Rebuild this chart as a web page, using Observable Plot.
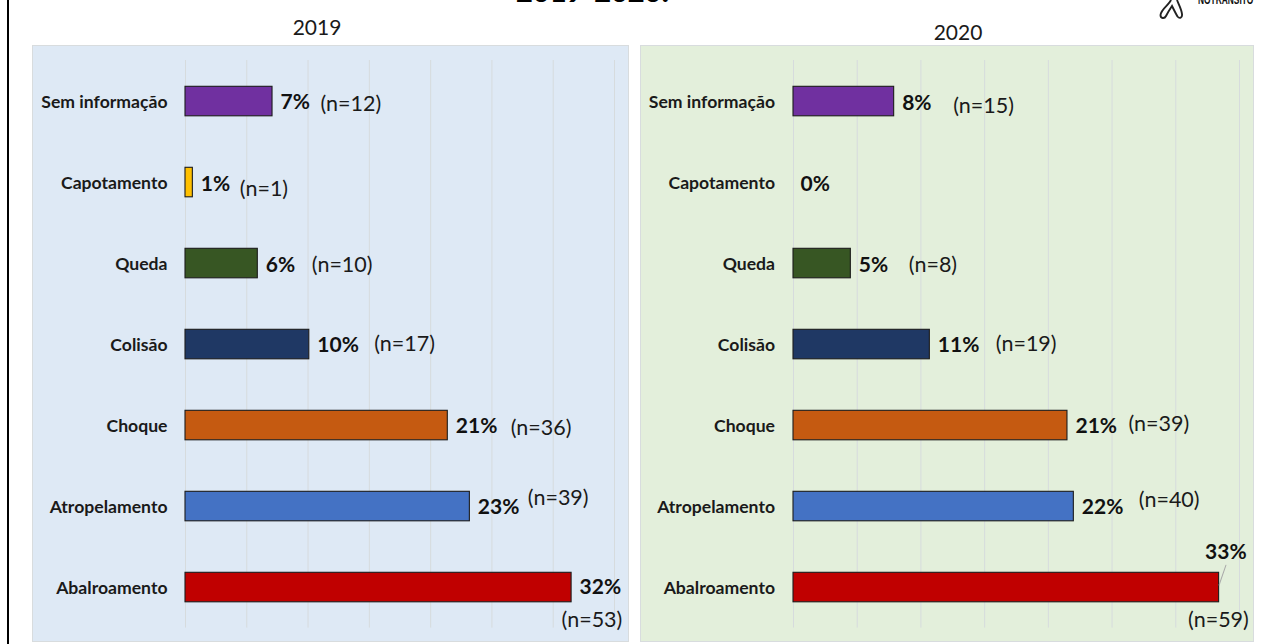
<!DOCTYPE html>
<html lang="pt">
<head>
<meta charset="utf-8">
<script src="https://cdn.jsdelivr.net/npm/d3@7"></script>
<script src="https://cdn.jsdelivr.net/npm/@observablehq/plot@0.6"></script>
<style>
  html,body{margin:0;padding:0;background:#fff;overflow:hidden}
  #page{position:relative;width:1272px;height:644px;overflow:hidden;font-family:Lato,sans-serif;color:#1a1a1a}
  #frame{position:absolute;left:7px;top:0;width:2.4px;height:644px;background:#000}
  .abs{position:absolute;white-space:nowrap}
  #title{left:592.5px;top:-27px;transform:translateX(-50%);font:900 29px Lato,sans-serif;color:#000}
  .year{font-size:21px;transform:translateX(-50%)}
  #brand{left:1198px;top:-8px;font:700 13.5px "Liberation Sans",sans-serif;transform-origin:left top;transform:scaleX(.62);color:#111}
  .panel{position:absolute;top:45px;box-sizing:border-box}
  .panel svg{display:block}
</style>
</head>
<body>
<div id="page">
  <div id="frame"></div>
  <div class="abs" id="title">2019-2020:</div>
  <div class="abs year" style="left:317px;top:14px">2019</div>
  <div class="abs year" style="left:958px;top:19px">2020</div>
  <svg class="abs" style="left:1155px;top:0" width="32" height="20" viewBox="0 0 32 20" fill="none" stroke="#222" stroke-width="1.9">
    <path d="M16 0 C14 5 6 9 5.5 15 C5.5 18.5 9.5 19 11 16 C13 12 15 9 17 6 C19 10 21 14 22.5 16.5 C24.5 19 27.5 18 27 14 C26.5 9 23.5 4 22 0"/>
  </svg>
  <div class="abs" id="brand">NOTRANSITO</div>
  <div class="panel" id="p2019" style="left:32px"></div>
  <div class="panel" id="p2020" style="left:640px"></div>
</div>
<script>
const categories = ["Sem informação","Capotamento","Queda","Colisão","Choque","Atropelamento","Abalroamento"];
const barColors  = ["#7030A0","#FFC000","#375623","#1F3864","#C55A11","#4472C4","#C00000"];
const gridTicks  = [0,5,10,15,20,25,30,35];

const values2019 = [7.1,0.6,5.9,10.1,21.4,23.2,31.5];
const labels2019 = ["7%","1%","6%","10%","21%","23%","32%"];
const counts2019 = ["(n=12)","(n=1)","(n=10)","(n=17)","(n=36)","(n=39)","(n=53)"];

const values2020 = [7.9,0,4.5,10.7,21.5,22,33.4];
const labels2020 = ["8%","0%","5%","11%","21%","22%","33%"];
const counts2020 = ["(n=15)","","(n=8)","(n=19)","(n=39)","(n=40)","(n=59)"];

function rowsOf(values, labels, counts){
  return categories.map((cat,i)=>({cat, value:values[i], label:labels[i], count:counts[i]}));
}

function panel(id, values, labels, counts, opt){
  const rows = rowsOf(values, labels, counts);
  const marks = [
    Plot.ruleX(gridTicks,{stroke:"#d6dbdd",strokeWidth:1}),
    Plot.barX(rows.filter(d=>d.value>0),{x:"value",y:"cat",fill:"cat",stroke:"#1c1c1c",strokeWidth:1.1,insetTop:26.3,insetBottom:25.2}),
    Plot.axisY({anchor:"left",tickSize:0,tickPadding:opt.tickPad,fontSize:17.6,fontWeight:700,fill:"#1a1a1a",label:null,dy:1})
  ];
  rows.forEach((r,i)=>{
    marks.push(Plot.text([r],{x:"value",y:"cat",text:"label",textAnchor:"start",
      dx:opt.pct[i][0],dy:opt.pct[i][1],fontSize:21,fontWeight:700,fill:"#111"}));
    if(r.count) marks.push(Plot.text([r],{x:"value",y:"cat",text:"count",textAnchor:"start",
      dx:opt.num[i][0],dy:opt.num[i][1],fontSize:21.5,fill:"#1a1a1a"}));
  });
  if(opt.leader!=null){
    marks.push(Plot.vector([rows[opt.leader]],{x:"value",y:"cat",length:21,rotate:19,anchor:"start",dy:-2,
      stroke:"#a9a9a9",strokeWidth:1,
      shape:{draw(ctx,l){ctx.moveTo(0,0);ctx.lineTo(0,-l);}}}));
  }
  const svg = Plot.plot({
    width:opt.width,height:597,
    marginLeft:opt.marginLeft,marginRight:opt.marginRight,marginTop:15,marginBottom:14.4,
    style:{background:opt.bg,fontFamily:"Lato,sans-serif",outline:"1px solid #d8dcde",outlineOffset:"-1px",overflow:"hidden"},
    x:{domain:[0,35],axis:null},
    y:{domain:categories,padding:0,axis:null},
    color:{domain:categories,range:barColors},
    marks
  });
  document.getElementById(id).appendChild(svg);
}

panel("p2019",values2019,labels2019,counts2019,{
  width:597,marginLeft:153,marginRight:15,bg:"#DEE9F5",tickPad:18,
  pct:[[8,1],[8,2],[8,2],[8,1],[8,1],[8,1],[8,0]],
  num:[[48,3],[47,7],[54,2],[65,0],[63,3],[58,-8],[-10,33]]
});
panel("p2020",values2020,labels2020,counts2020,{
  width:614,marginLeft:153,marginRight:15,bg:"#E3EFDB",tickPad:18.5,leader:6,
  pct:[[8,2],[7,2],[8,2],[8,1],[8,1],[8,1],[-14,-35]],
  num:[[59,5],[0,0],[58,2],[66,0],[61,-1],[65,-6],[-31,33]]
});
</script>
</body>
</html>
